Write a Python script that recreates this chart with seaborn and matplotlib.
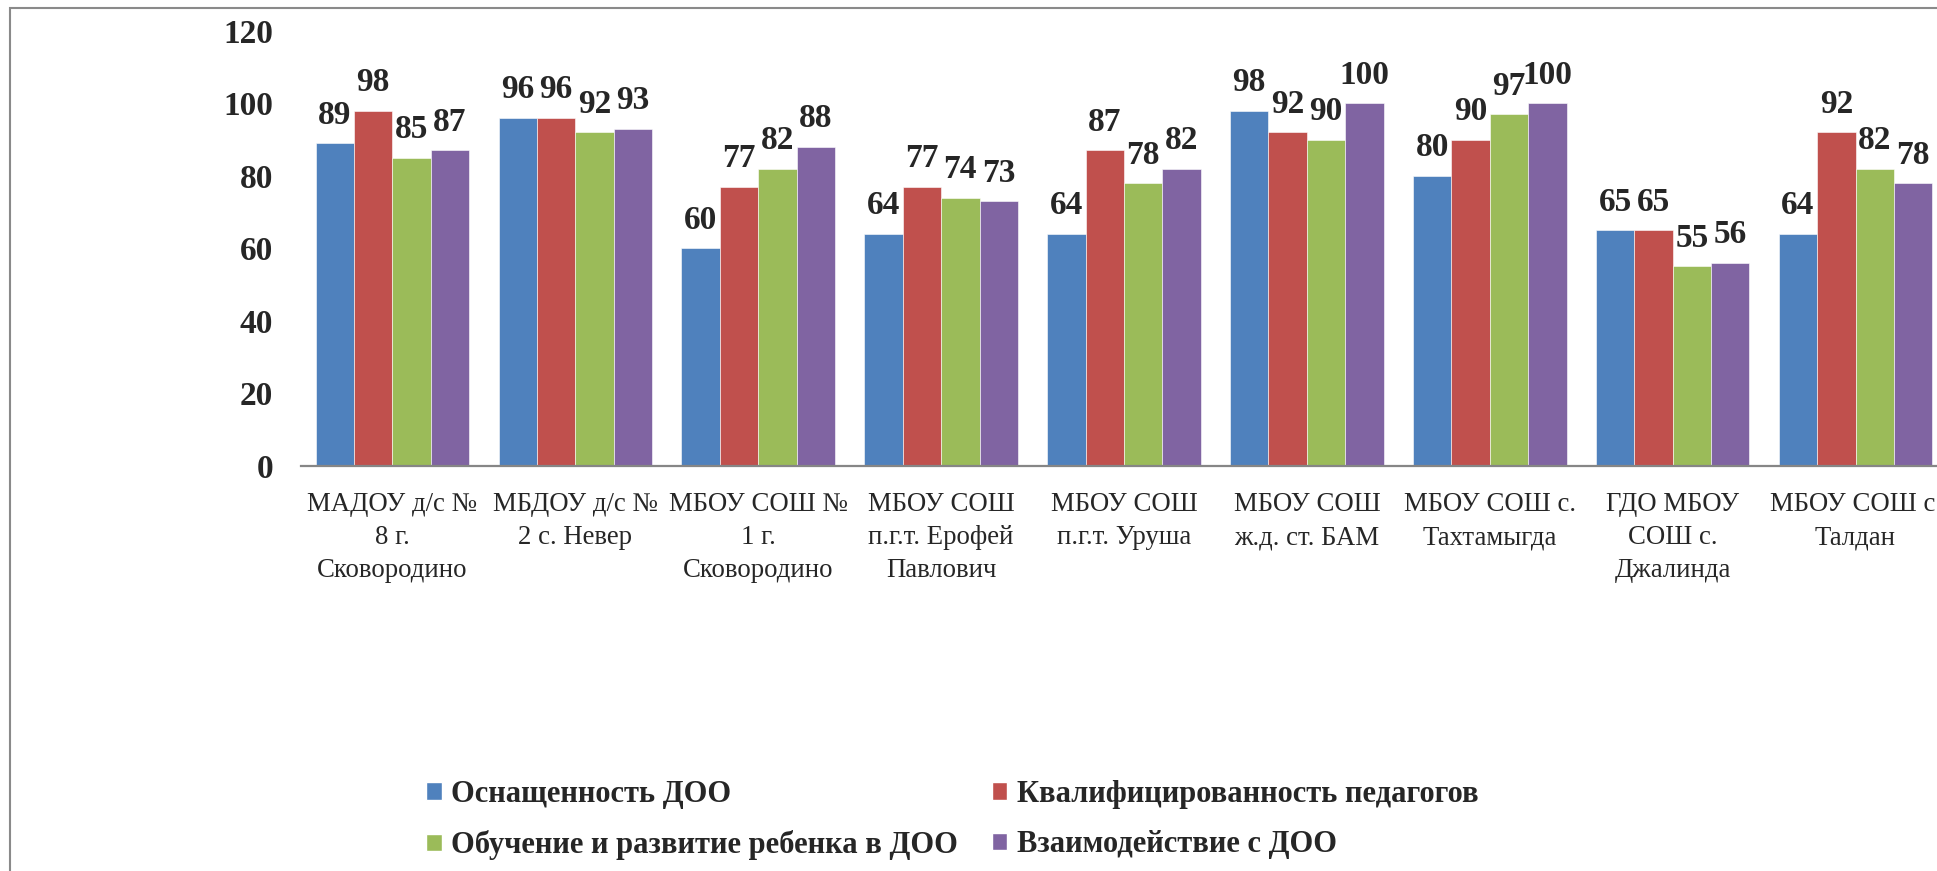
import pandas as pd
import numpy as np
import matplotlib.pyplot as plt
import seaborn as sns
from matplotlib.patches import Patch, Rectangle

# data
schools = ["МАДОУ д/с №\n8 г.\nСковородино",
           "МБДОУ д/с №\n2 с. Невер",
           "МБОУ СОШ №\n1 г.\nСковородино",
           "МБОУ СОШ\nп.г.т. Ерофей\nПавлович",
           "МБОУ СОШ\nп.г.т. Уруша",
           "МБОУ СОШ\nж.д. ст. БАМ",
           "МБОУ СОШ с.\nТахтамыгда",
           "ГДО МБОУ\nСОШ с.\nДжалинда",
           "МБОУ СОШ с.\nТалдан"]
series = ["Оснащенность ДОО",
          "Квалифицированность педагогов",
          "Обучение и развитие ребенка в ДОО",
          "Взаимодействие с ДОО"]
equipment = [89, 96, 60, 64, 64, 98, 80, 65, 64]
teachers = [98, 96, 77, 77, 87, 92, 90, 65, 92]
learning = [85, 92, 82, 74, 78, 90, 97, 55, 82]
interaction = [87, 93, 88, 73, 82, 100, 100, 56, 78]
colors = ["#4F81BD", "#C0504D", "#9BBB59", "#8064A2"]

df = pd.DataFrame({"school": schools * 4,
                   "series": np.repeat(series, len(schools)),
                   "value": equipment + teachers + learning + interaction})

sns.set_theme(style="white")
plt.rcParams['font.family'] = ['Liberation Serif', 'DejaVu Serif']

W, H = 1937, 871
fig = plt.figure(figsize=(W / 100, H / 100), dpi=100)
ax = fig.add_axes([301 / W, (H - 465.7) / H, 1646 / W, 434.9 / H])

sns.barplot(data=df, x="school", y="value", hue="series", hue_order=series,
            palette=colors, width=0.84, saturation=1, ax=ax,
            edgecolor="white", linewidth=0.4)
ax.get_legend().remove()

for cont in ax.containers:
    ax.bar_label(cont, padding=9, fontsize=24, fontweight="bold")

ax.set_xlim(-0.5, 8.5)
ax.set_ylim(0, 120)
ax.set_yticks(range(0, 121, 20))
ax.set_xlabel("")
ax.set_ylabel("")
for s in ["top", "right", "left"]:
    ax.spines[s].set_visible(False)
ax.spines["bottom"].set_color("#868686")
ax.spines["bottom"].set_linewidth(1.6)
ax.tick_params(axis="y", length=0, pad=20, labelsize=24)
ax.tick_params(axis="x", length=0, pad=19, labelsize=19.3)
for t in ax.get_yticklabels():
    t.set_fontweight("bold")
for t in ax.get_xticklabels():
    t.set_linespacing(1.43)

# legend fills row by row in the reference
order = [0, 2, 1, 3]
handles = [Patch(facecolor=colors[i], label=series[i]) for i in order]
fig.legend(handles=handles, loc="upper left", bbox_to_anchor=(426 / W, (H - 780) / H),
           ncol=2, frameon=False, borderpad=0, borderaxespad=0,
           prop={"weight": "bold", "size": 22}, handlelength=0.52, handleheight=0.52,
           handletextpad=0.3, columnspacing=1.1, labelspacing=0.7)

fig.add_artist(Rectangle((10 / W, -0.1), 1.2, (H - 8) / H + 0.1,
                         transform=fig.transFigure, fill=False,
                         edgecolor="#8a8a8a", linewidth=1.5))

plt.savefig("out.png", dpi=100)
